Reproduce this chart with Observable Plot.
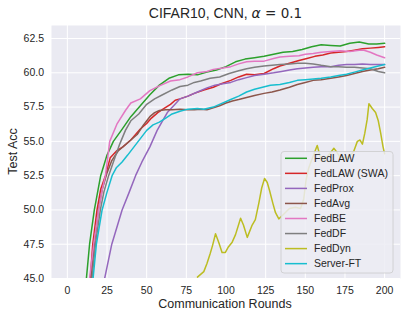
<!DOCTYPE html>
<html><head><meta charset="utf-8">
<script src="https://cdn.jsdelivr.net/npm/d3@7"></script>
<script src="https://cdn.jsdelivr.net/npm/@observablehq/plot@0.6"></script>
<style>body{margin:0;background:#fff}#chart{width:407px;height:319px}</style>
</head><body><div id="chart"></div>
<script>
const seriesNames = ["FedLAW","FedLAW (SWA)","FedProx","FedAvg","FedBE","FedDF","FedDyn","Server-FT"];
const seriesColors = ["#2ca02c","#d62728","#9467bd","#8c564b","#e377c2","#7f7f7f","#bcbd22","#17becf"];

const fedlawRounds = [12,14,17,21,25,29,34,40,46,52,58,64,70,76,82,88,94,100,106,112,118,124,130,136,142,148,154,160,166,172,178,184,190,195,200];
const fedlawAcc    = [45,47.5,50,52.5,54,55,55.8,56.8,57.6,58.4,59.1,59.6,59.85,59.9,59.85,60.05,60.2,60.45,60.8,61.0,61.1,61.2,61.35,61.5,61.55,61.7,61.9,62.05,62.0,61.95,62.15,62.25,62.1,62.1,62.15];

const swaRounds = [14.5,16,18.7,21,24,27,31,35,40,46,50,53,57,61,65,68,71,76,80,86,92,97,103,108,113,118,124,130,134,140,146,151,156,161,166,171,176,181,186,191,196,200];
const swaAcc    = [45,47.5,50,51.5,52.5,53.8,54.3,54.6,55.1,55.9,56.3,56.7,57.1,57.4,57.7,58.0,58.1,58.3,58.5,58.75,58.95,59.2,59.45,59.7,59.9,59.85,59.95,60.3,60.5,60.7,60.9,61.05,61.2,61.3,61.45,61.5,61.55,61.65,61.75,61.8,61.85,61.9];

const proxRounds = [23.5,28,34.5,39,43,47,52,56.6,60,63,67,71,76,82,88,93,98,103,108,113,118,124,130,135,140,145,150,155,160,166,171,176,181,186,191,196,200];
const proxAcc    = [45,47.5,50,51.3,52.5,53.5,54.6,55.8,56.5,57.1,57.6,58.1,58.3,58.6,58.9,59.1,59.2,59.3,59.5,59.65,59.8,59.9,60.0,60.1,60.2,60.3,60.35,60.4,60.45,60.45,60.55,60.6,60.6,60.65,60.6,60.6,60.6];

const avgRounds = [15,17,19.5,22,25,28,32,36,40,44,48,52,55,58,62,66,71,76,80,84,88,92,96,100,104,108,113,118,124,129,134,140,145,150,155,160,166,171,176,181,186,191,196,200];
const avgAcc    = [45,47.5,50,51.5,52.7,53.6,54.3,54.7,55.1,55.5,56.2,56.8,57.1,57.25,57.3,57.3,57.35,57.3,57.3,57.35,57.3,57.45,57.6,57.8,57.95,58.05,58.2,58.35,58.5,58.6,58.75,58.95,59.15,59.3,59.45,59.5,59.6,59.7,59.8,59.95,60.1,60.2,60.3,60.4];

const beRounds = [14,16.6,19.7,22,24,26.7,31.4,36.6,40,46,52,58,65,71,76,82,88,92,98,103,108,113,118,124,130,134,140,146,150,155,160,166,172,178,184,187,191,195,200];
const beAcc    = [45,47.5,50,51.5,52.5,55,56.3,57.25,57.8,58.1,58.7,59.05,59.4,59.5,59.7,60.0,60.1,60.25,60.35,60.45,60.65,60.8,60.85,60.85,61.05,61.15,61.2,61.25,61.35,61.4,61.5,61.55,61.6,61.55,61.65,61.65,61.5,61.3,61.1];

const dfRounds = [15.5,17.7,20.8,23,26,29,33,36.6,40,45,50,55,60,66,71,76,80,84,90,96,102,108,113,118,124,129,134,140,145,150,155,160,166,171,176,181,186,191,196,200];
const dfAcc    = [45,47.5,50,51.3,52.5,53.5,54.8,55.8,56.5,57.0,57.7,58.1,58.4,58.75,59.0,59.1,59.3,59.4,59.6,59.7,59.95,60.15,60.3,60.4,60.5,60.55,60.6,60.65,60.7,60.7,60.65,60.55,60.45,60.45,60.4,60.4,60.35,60.3,60.1,60.0];

const dynRounds = [82,84,86,88,90,91.5,93.4,95.5,97.5,99.6,101.5,103.9,106,109.2,111,113.4,116.5,118.5,120.7,122.5,124.3,126,127.5,129.5,131.2,133.3,136.5,140,143.8,147,149,150.5,152,153.5,155.5,157.5,159.6,161.5,163.8,166,168,170,171.5,174,176.5,178.5,180.6,182.8,184.5,186,187.5,189,190.1,191,192.2,194.3,196,197.5,199,200];
const dynAcc    = [45.1,45.3,45.5,46.1,46.8,47.4,48.26,47.6,46.9,46.9,47.3,47.65,48.2,49.4,48.9,48.0,48.9,49.3,50.5,51.6,52.3,52.0,51.4,50.5,49.8,49.35,49.7,50.1,50.2,50.1,50.8,52.2,53.0,53.5,54.1,54.7,53.8,53.6,53.9,54.2,54.5,54.2,53.9,53.8,53.85,54.0,54.3,55.0,55.1,54.8,55.6,56.6,57.75,57.6,57.4,57.1,56.5,55.6,54.6,54.1];

const ftRounds = [16.2,18.3,21.9,25,28.2,31,34.5,38,42,46,50,54,58,62,66,71,76,82,86,92,97,103,108,113,118,123,128,134,140,145,150,155,160,166,171,176,181,186,191,196,200];
const ftAcc    = [45,47.5,50,51.3,52.5,53.1,53.5,54.0,54.6,55.2,55.8,56.2,56.4,56.7,57.0,57.2,57.35,57.4,57.35,57.5,57.75,58.05,58.3,58.6,58.8,58.95,59.1,59.15,59.3,59.45,59.5,59.55,59.6,59.7,59.8,59.9,60.05,60.2,60.35,60.5,60.6];

const xTicks = [0,25,50,75,100,125,150,175,200];
const yTicks = [45,47.5,50,52.5,55,57.5,60,62.5];
const titleMain = "CIFAR10, CNN, ";
const titleSymbol = "α";
const titleRest = " = 0.1";
const xLabel = "Communication Rounds";
const yLabel = "Test Acc";

const seriesData = [
  [fedlawRounds, fedlawAcc], [swaRounds, swaAcc], [proxRounds, proxAcc], [avgRounds, avgAcc],
  [beRounds, beAcc], [dfRounds, dfAcc], [dynRounds, dynAcc], [ftRounds, ftAcc]
];
const rows = [];
seriesData.forEach(([rs, vs], k) => rs.forEach((r, i) => rows.push({method: seriesNames[k], round: r, acc: vs[i]})));

const font = "'Liberation Sans', Arial, sans-serif";
const txt = "#262626";

const plot = Plot.plot({
  width: 407, height: 319,
  marginLeft: 51, marginRight: 7, marginTop: 25, marginBottom: 41,
  x: {domain: [-10, 210]},
  y: {domain: [45, 63.45]},
  color: {domain: seriesNames, range: seriesColors},
  style: {fontFamily: font, color: txt, background: "white", overflow: "visible"},
  marks: [
    Plot.frame({fill: "#eaeaf2", stroke: null}),
    Plot.gridX(xTicks, {stroke: "white", strokeOpacity: 1, strokeWidth: 1}),
    Plot.gridY(yTicks, {stroke: "white", strokeOpacity: 1, strokeWidth: 1}),
    Plot.axisX(xTicks, {tickSize: 0, tickPadding: 8, fontSize: 10.5, label: null, fill: txt}),
    Plot.axisY(yTicks, {tickSize: 0, tickPadding: 7.5, fontSize: 10.5, label: null, fill: txt, tickFormat: d3.format(".1f")}),
    Plot.lineY(rows, {x: "round", y: "acc", z: "method", stroke: "method", strokeWidth: 1.5, clip: true})
  ]
});
document.getElementById("chart").appendChild(plot);

const svg = d3.select(plot);
// title
const t = svg.append("text").attr("x", 225.5).attr("y", 18).attr("text-anchor", "middle")
  .attr("font-family", font).attr("font-size", 14).attr("fill", txt);
t.append("tspan").text(titleMain);
t.append("tspan").attr("font-style", "italic").attr("font-family", "'DejaVu Sans', sans-serif").text(titleSymbol);
t.append("tspan").attr("font-family", "'DejaVu Sans', sans-serif").attr("font-size", 13.5).text(titleRest);
// axis labels
svg.append("text").attr("x", 225).attr("y", 308).attr("text-anchor", "middle")
  .attr("font-family", font).attr("font-size", 12.5).attr("fill", txt).text(xLabel);
svg.append("text").attr("transform", "translate(17,151.5) rotate(-90)").attr("text-anchor", "middle")
  .attr("font-family", font).attr("font-size", 12.5).attr("fill", txt).text(yLabel);
// legend
const lg = svg.append("g").attr("text-anchor", "start");
lg.append("rect").attr("x", 281).attr("y", 151.5).attr("width", 112).attr("height", 121.5).attr("rx", 3)
  .style("fill", "#ececf3").style("fill-opacity", "0.85").style("stroke", "#cccccc").style("stroke-width", "0.8");
seriesNames.forEach((n, i) => {
  const y = 158.3 + i * 15.05;
  lg.append("line").attr("x1", 285).attr("x2", 307).attr("y1", y).attr("y2", y)
    .style("stroke", seriesColors[i]).style("stroke-width", "1.5");
  lg.append("text").attr("x", 314).attr("y", y).attr("dy", "0.35em").attr("text-anchor", "start")
    .attr("font-family", font).attr("font-size", 10.5).attr("fill", txt).text(n);
});
</script>
</body></html>
